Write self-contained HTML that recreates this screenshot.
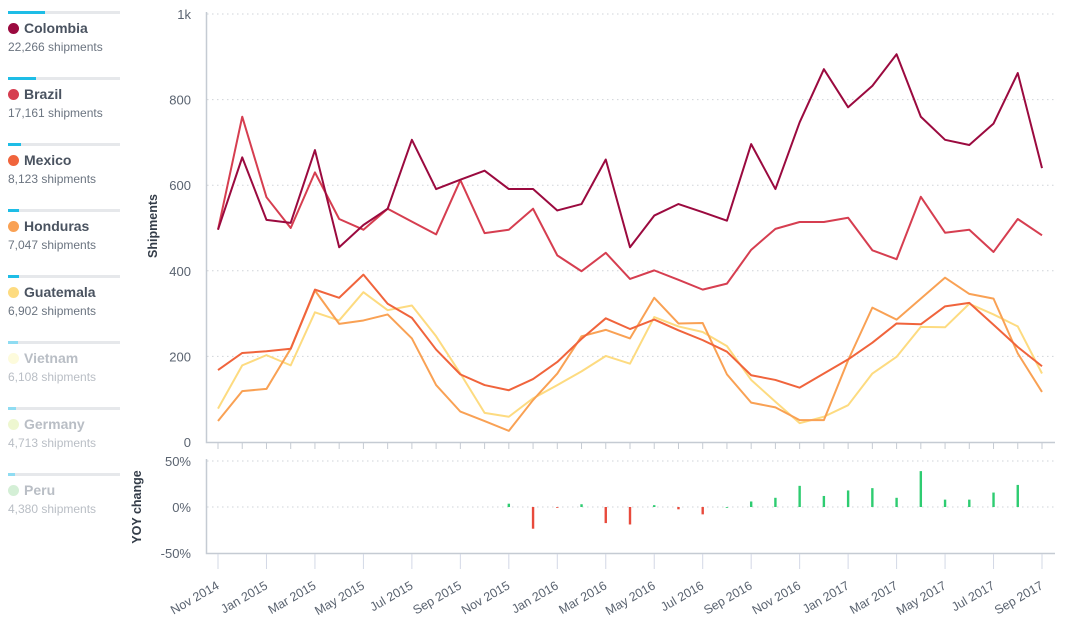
<!DOCTYPE html>
<html><head><meta charset="utf-8"><style>
body{margin:0;width:1068px;height:634px;background:#fff;font-family:"Liberation Sans",sans-serif;overflow:hidden;position:relative}
.leg{position:absolute;left:8px;width:112px}
.leg .bar{height:3px;background:#e6e8eb;position:relative}
.leg .bar i{position:absolute;left:0;top:0;height:3px;background:#1ebde6}
.leg .nm{font-size:14px;font-weight:bold;color:#4a5360;margin-top:6px;white-space:nowrap}
.leg .nm b{display:inline-block;width:11px;height:11px;border-radius:50%;margin-right:5px;vertical-align:-1px}
.leg .ct{font-size:12px;color:#6b7480;margin-top:4px;white-space:nowrap}
.dim .nm,.dim .ct{color:#b9bec5}
</style></head><body>
<div class="leg" style="top:11px"><div class="bar"><i style="width:37px"></i></div><div class="nm"><b style="background:#9b0a3f"></b>Colombia</div><div class="ct">22,266 shipments</div></div>
<div class="leg" style="top:77px"><div class="bar"><i style="width:28px"></i></div><div class="nm"><b style="background:#d63e50"></b>Brazil</div><div class="ct">17,161 shipments</div></div>
<div class="leg" style="top:143px"><div class="bar"><i style="width:13px"></i></div><div class="nm"><b style="background:#f0643c"></b>Mexico</div><div class="ct">8,123 shipments</div></div>
<div class="leg" style="top:209px"><div class="bar"><i style="width:11px"></i></div><div class="nm"><b style="background:#f9a154"></b>Honduras</div><div class="ct">7,047 shipments</div></div>
<div class="leg" style="top:275px"><div class="bar"><i style="width:11px"></i></div><div class="nm"><b style="background:#fddb80"></b>Guatemala</div><div class="ct">6,902 shipments</div></div>
<div class="leg dim" style="top:341px"><div class="bar"><i style="width:10px;background:#8fdcf2"></i></div><div class="nm"><b style="background:#fdfbdc"></b>Vietnam</div><div class="ct">6,108 shipments</div></div>
<div class="leg dim" style="top:407px"><div class="bar"><i style="width:8px;background:#8fdcf2"></i></div><div class="nm"><b style="background:#eef7d0"></b>Germany</div><div class="ct">4,713 shipments</div></div>
<div class="leg dim" style="top:473px"><div class="bar"><i style="width:7px;background:#8fdcf2"></i></div><div class="nm"><b style="background:#d4efd6"></b>Peru</div><div class="ct">4,380 shipments</div></div>
<svg id="chart" width="1068" height="634" style="position:absolute;left:0;top:0"></svg>
<script>
const months=["Nov 2014","Dec 2014","Jan 2015","Feb 2015","Mar 2015","Apr 2015","May 2015","Jun 2015","Jul 2015","Aug 2015","Sep 2015","Oct 2015","Nov 2015","Dec 2015","Jan 2016","Feb 2016","Mar 2016","Apr 2016","May 2016","Jun 2016","Jul 2016","Aug 2016","Sep 2016","Oct 2016","Nov 2016","Dec 2016","Jan 2017","Feb 2017","Mar 2017","Apr 2017","May 2017","Jun 2017","Jul 2017","Aug 2017","Sep 2017"];
const colombia=[496,665,519,512,682,455,507,545,706,591,613,634,591,591,541,556,660,455,529,556,537,517,696,591,747,871,782,832,906,760,706,694,744,862,640];
const brazil=[496,760,572,500,630,521,496,545,515,485,612,488,496,545,436,399,442,381,401,379,356,370,449,498,514,514,524,448,427,573,489,496,444,521,483];
const mexico=[168,208,212,218,356,337,391,323,290,216,158,133,121,147,187,241,289,264,286,261,238,211,156,145,127,160,193,232,277,275,317,325,274,222,177];
const honduras=[49,119,124,218,354,276,284,298,242,133,71,49,26,98,160,247,262,242,337,277,278,158,92,81,51,51,191,314,286,335,384,346,335,207,117];
const guatemala=[78,179,203,179,303,284,350,308,319,247,160,68,59,102,133,165,201,183,292,270,257,224,145,94,44,59,86,160,199,269,268,323,298,270,160];
const yoy=[null,null,null,null,null,null,null,null,null,null,null,null,3.6,-23.6,-0.5,3,-17.5,-19,2,-2.5,-8,0,6,10,23,12,18,20.5,10,39,8,8,15.7,24];
const yTicks=[0,200,400,600,800,1000];
const yTickLabels=["0","200","400","600","800","1k"];
const pctTicks=[-50,0,50];
const pctTickLabels=["-50%","0%","50%"];
const series=[["colombia",colombia,"#9b0a3f"],["brazil",brazil,"#d63e50"],["mexico",mexico,"#f0643c"],["honduras",honduras,"#f9a154"],["guatemala",guatemala,"#fddb80"]];

const NS="http://www.w3.org/2000/svg",svg=document.getElementById('chart');
const x=i=>218+i*(1042-218)/(months.length-1);
const y=v=>442-v*(442-14)/1000;
const yp=p=>507-p*(46/50);
function mk(t,a,p){const e=document.createElementNS(NS,t);for(const k in a)e.setAttribute(k,a[k]);(p||svg).appendChild(e);return e;}
yTicks.forEach((v,i)=>{
 if(v>0){const g=mk('line',{x1:207,x2:1055,y1:y(v),y2:y(v),stroke:'#cfd3d8','stroke-dasharray':'1.5,3.5'});
 
 }
 const t=mk('text',{x:191,y:y(v)+5,'text-anchor':'end','font-size':13,fill:'#5a6370'});t.textContent=yTickLabels[i];
 
 
});
pctTicks.forEach((v,i)=>{
 if(v>-50){const g=mk('line',{x1:207,x2:1055,y1:yp(v),y2:yp(v),stroke:'#cfd3d8','stroke-dasharray':'1.5,3.5'});
 
 }
 const t=mk('text',{x:191,y:yp(v)+5,'text-anchor':'end','font-size':13,fill:'#5a6370'});t.textContent=pctTickLabels[i];
 
 
});
let a=mk('path',{d:'M206.5 12V442.5H1055',stroke:'#c5cbd3',fill:'none','stroke-width':1.5});


a=mk('path',{d:'M206.5 459V553.5H1055',stroke:'#c5cbd3',fill:'none','stroke-width':1.5});


months.forEach((m,i)=>{
 const t1=mk('line',{x1:x(i),x2:x(i),y1:443,y2:449,stroke:'#c5cbd3'});
 
 
 if(i%2==0){
  const t2=mk('line',{x1:x(i),x2:x(i),y1:554,y2:569,stroke:'#d3d8e6'});
  
  
  const lb=mk('text',{x:x(i)+2,y:588,'text-anchor':'end','font-size':12.5,fill:'#5a6370',transform:`rotate(-30 ${x(i)+2} 588)`});lb.textContent=m;
  
  
 }
});
let yl=mk('text',{x:0,y:0,'font-size':12.5,'font-weight':'bold',fill:'#333c48','text-anchor':'middle',transform:'translate(157 226) rotate(-90)'});yl.textContent='Shipments';


yl=mk('text',{x:0,y:0,'font-size':12.5,'font-weight':'bold',fill:'#333c48','text-anchor':'middle',transform:'translate(141 507) rotate(-90)'});yl.textContent='YOY change';


series.slice().reverse().forEach(([n,d,c])=>{
 const p=mk('polyline',{points:d.map((v,i)=>x(i)+','+y(v)).join(' '),fill:'none',stroke:c,'stroke-width':2,'stroke-linejoin':'round'});
 
 
});
yoy.forEach((v,i)=>{
 if(v===null)return;
 const y0=yp(0),y1=yp(v);
 const r=mk('rect',{x:x(i)-1.2,y:Math.min(y0,y1),width:2.4,height:Math.max(0.8,Math.abs(y1-y0)),fill:v>=0?'#2ecc71':'#e84a3c'});
 
 
});
</script>
</body></html>
